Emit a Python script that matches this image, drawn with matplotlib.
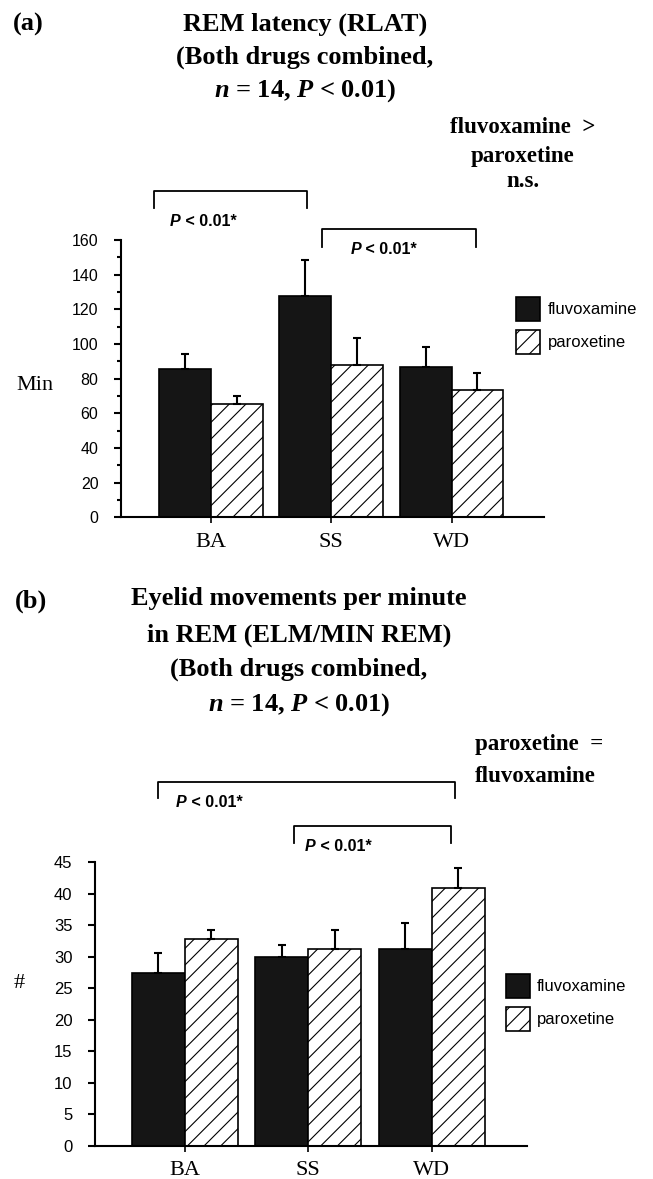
import numpy as np
import matplotlib
matplotlib.use('Agg')
import matplotlib.pyplot as plt
import matplotlib.transforms as mtransforms
from matplotlib.lines import Line2D

# data
phases = ['BA', 'SS', 'WD']

rlat_fluvox = [85.4, 127.9, 86.9]
rlat_fluvox_err = [9.0, 20.3, 11.2]
rlat_parox = [65.6, 87.8, 73.3]
rlat_parox_err = [4.6, 15.9, 10.1]

elm_fluvox = [27.4, 30.0, 31.2]
elm_fluvox_err = [3.2, 1.8, 4.1]
elm_parox = [32.8, 31.2, 40.9]
elm_parox_err = [1.5, 3.1, 3.2]

W, H = 653, 1179
plt.rcParams['font.family'] = 'Liberation Sans'
plt.rcParams['hatch.linewidth'] = 0.8
plt.rcParams['mathtext.fontset'] = 'custom'
plt.rcParams['mathtext.rm'] = 'Liberation Serif:bold'
plt.rcParams['mathtext.it'] = 'Liberation Serif:italic:bold'

fig = plt.figure(figsize=(W / 100, H / 100), dpi=100)
# pixel coords measured from top-left of the picture
T = mtransforms.Affine2D().scale(1 / W, -1 / H).translate(0, 1) + fig.transFigure

serif = 'Liberation Serif'


def draw_panel(ax, fl, fl_err, pa, pa_err, ymax, major, minor, xlim, leg_xy, lsize):
    x = np.arange(len(phases))
    w = 0.43
    ekw = dict(ecolor='black', elinewidth=1.5, capsize=3, capthick=1.5)
    ax.bar(x - w / 2, fl, w, color='#151515', edgecolor='black', linewidth=1.2,
           yerr=[np.zeros(len(fl)), fl_err], error_kw=ekw, label='fluvoxamine')
    ax.bar(x + w / 2, pa, w, color='white', edgecolor='black', linewidth=1.2, hatch='//',
           yerr=[np.zeros(len(pa)), pa_err], error_kw=ekw, label='paroxetine')
    ax.set_xlim(*xlim)
    ax.set_ylim(0, ymax)
    for s in ['top', 'right']:
        ax.spines[s].set_visible(False)
    for s in ['left', 'bottom']:
        ax.spines[s].set_linewidth(1.5)
    ax.set_yticks(np.arange(0, ymax + 1, major))
    if minor:
        ax.set_yticks(np.arange(0, ymax + 1, minor), minor=True)
    ax.tick_params(axis='y', which='major', direction='out', length=5, width=1.5,
                   labelsize=lsize, pad=11)
    ax.tick_params(axis='y', which='minor', direction='out', length=3, width=1.5)
    ax.set_xticks(x)
    ax.set_xticklabels(phases, fontfamily=serif, fontsize=16)
    ax.tick_params(axis='x', direction='out', length=4, width=1.2, pad=7)
    ax.legend(loc='upper left', bbox_to_anchor=(leg_xy[0] / W, 1 - leg_xy[1] / H),
              bbox_transform=fig.transFigure, frameon=False, fontsize=12,
              handlelength=1.45, handleheight=1.83, handletextpad=0.45,
              labelspacing=0.55, borderpad=0, borderaxespad=0)


def bracket(x0, x1, ytop, ybot, tx, ty):
    fig.add_artist(Line2D([x0, x0, x1, x1], [ybot, ytop, ytop, ybot], transform=T,
                          color='black', linewidth=1.3))
    t = fig.text(tx, ty, 'P', transform=T, fontsize=11.5, fontweight='bold',
                 fontstyle='italic', va='center', ha='left')
    fig.axes[0].annotate(' < 0.01*', xy=(1, 0), xycoords=t, fontsize=11.5,
                         fontweight='bold', va='bottom', ha='left', annotation_clip=False)


def lines(texts, x, ys, size, ha='center'):
    for s, y in zip(texts, ys):
        fig.text(x, y, s, transform=T, fontfamily=serif, fontweight='bold',
                 fontsize=size, ha=ha, va='baseline')


# panel (a)
ax1 = fig.add_axes([120.7 / W, 1 - 517.3 / H, (543.6 - 120.7) / W, (517.3 - 240) / H])
draw_panel(ax1, rlat_fluvox, rlat_fluvox_err, rlat_parox, rlat_parox_err,
           160, 20, 10, (-0.749, 2.765), (516, 297), 11.5)

# panel (b)
ax2 = fig.add_axes([94.6 / W, 1 - 1146 / H, (527 - 94.6) / W, (1146 - 862) / H])
draw_panel(ax2, elm_fluvox, elm_fluvox_err, elm_parox, elm_parox_err,
           45, 5, None, (-0.729, 2.772), (505.5, 974), 12)

# titles
lines(['(a)'], 12.5, [31], 19, ha='left')
lines(['REM latency (RLAT)', '(Both drugs combined,', r'$n$ = 14, $P$ < 0.01)'],
      305, [31, 64, 96.5], 19)
lines(['fluvoxamine  >', 'paroxetine', 'n.s.'], 523, [133, 162, 187], 16.5)

lines(['(b)'], 14.5, [608], 19, ha='left')
lines(['Eyelid movements per minute', 'in REM (ELM/MIN REM)',
       '(Both drugs combined,', r'$n$ = 14, $P$ < 0.01)'],
      299, [605.5, 642, 676, 710.5], 19)
lines(['paroxetine  =', 'fluvoxamine'], 475, [750, 781.5], 16.5, ha='left')

# y labels
fig.text(35, 386, 'Min', transform=T, fontfamily=serif, fontsize=16, ha='center', va='center')
fig.text(18.7, 983, '#', transform=T, fontfamily=serif, fontsize=16, ha='center', va='center')

# significance brackets
bracket(153.5, 307, 190.7, 208, 170, 221.7)
bracket(322, 476, 229.3, 246.7, 350.6, 249)
bracket(157.7, 455, 782.3, 798, 176, 802.7)
bracket(293.8, 451, 826, 843, 305, 846.7)

fig.savefig('out.png', dpi=100)
